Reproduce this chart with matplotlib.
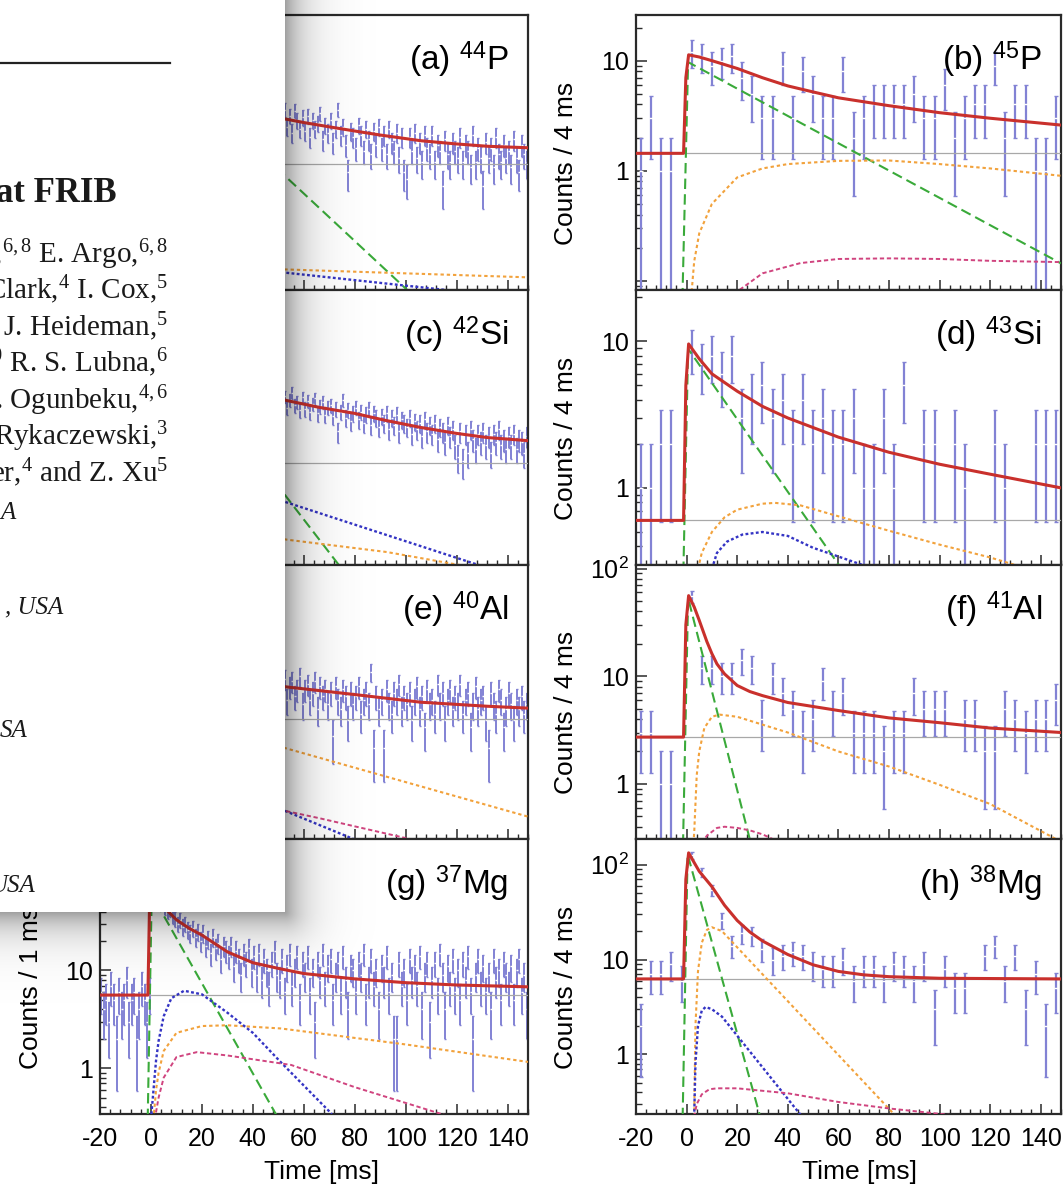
import numpy as np
import matplotlib
matplotlib.use("Agg")
import matplotlib.pyplot as plt
from matplotlib.ticker import MultipleLocator, LogLocator, FuncFormatter, NullFormatter
from matplotlib.lines import Line2D

plt.rcParams['font.family'] = ['Liberation Sans', 'DejaVu Sans']
plt.rcParams['mathtext.fontset'] = 'custom'
plt.rcParams['mathtext.rm'] = 'Liberation Serif'
plt.rcParams['mathtext.it'] = 'Liberation Serif:italic'
plt.rcParams['mathtext.bf'] = 'Liberation Serif:bold'
plt.rcParams['mathtext.sf'] = 'Liberation Sans'

# ---------------------------------------------------------------- data
# counts per bin; 4 ms bins start at -20 ms, 1 ms bins start where listed
counts_b = [1, 3, 1, 1, 0, 12, 11, 9, 10, 11, 7, 5, 3, 3, 9, 3, 8, 5, 3, 3, 8,
            2, 3, 4, 4, 4, 4, 5, 3, 3, 6, 2, 3, 4, 4, 9, 2, 4, 4, 1, 1, 3]
counts_d = [1, 1, 2, 2, 0, 9, 7, 8, 6, 8, 3, 4, 5, 3, 4, 2, 4, 2, 3, 2, 2,
            3, 1, 1, 3, 1, 5, 0, 2, 2, 0, 2, 1, 0, 0, 2, 1, 0, 0, 2, 2, 2]
counts_f = [3, 3, 1, 1, 0, 55, 12, 12, 10, 10, 14, 12, 4, 10, 7, 5, 3, 4, 9, 5, 7,
            3, 3, 3, 2, 3, 3, 7, 5, 5, 5, 0, 4, 4, 2, 2, 5, 4, 3, 4, 4, 6]
counts_h = [2, 7, 7, 9, 6, 125, 83, 54, 26, 14, 19, 18, 13, 10, 11, 12, 11, 9, 8, 8, 10,
            6, 8, 8, 6, 9, 8, 6, 9, 3, 8, 5, 5, 0, 11, 14, 6, 11, 3, 7, 2, 5]

counts_g = [6, 4, 5, 3, 7, 5, 2, 6, 4, 5, 8, 3, 5, 6, 2, 4, 7, 5, 3, 6,
            62, 70, 58, 55, 50, 44, 40, 42, 36, 34,
            30, 33, 28, 30, 26, 24, 27, 22, 25, 20,
            24, 18, 21, 15, 22, 17, 19, 13, 18, 16,
            14, 18, 11, 16, 13, 9, 15, 12, 17, 10,
            14, 9, 15, 8, 13, 10, 7, 12, 16, 9,
            8, 13, 6, 11, 15, 7, 10, 14, 5, 12,
            9, 14, 6, 10, 3, 12, 8, 15, 7, 11,
            13, 5, 9, 12, 6, 14, 8, 4, 11, 10,
            6, 12, 9, 15, 5, 8, 13, 7, 10, 4,
            11, 8, 14, 6, 9, 2, 2, 12, 7, 10,
            5, 13, 8, 11, 7, 14, 4, 9, 12, 3,
            8, 12, 6, 15, 9, 4, 11, 7, 13, 6,
            10, 5, 12, 8, 14, 6, 2, 9, 13, 7,
            11, 6, 9, 4, 13, 8, 10, 5, 12, 9,
            7, 11, 5, 10, 13, 6, 9, 4]

counts_a = [31, 24, 34, 22, 29, 19, 33, 26, 21, 28,
            20, 29, 17, 26, 21, 24, 31, 16, 23, 19,
            26, 15, 21, 34, 18, 22, 14, 7, 20, 17,
            13, 23, 18, 12, 21, 16, 11, 20, 14, 22,
            13, 18, 11, 21, 15, 12, 19, 10, 17, 7,
            6, 17, 12, 19, 10, 15, 9, 18, 13, 11,
            18, 9, 14, 12, 5, 16, 11, 9, 15, 12,
            10, 17, 9, 14, 12, 8, 18, 9, 13, 10,
            5, 15, 10, 13, 8, 17, 11, 9, 14, 10,
            12, 8, 16, 10, 7, 14, 11, 9]
counts_c = [44, 35, 41, 31, 38, 45, 33, 36, 29, 40,
            30, 37, 28, 34, 39, 27, 32, 36, 26, 31,
            33, 25, 30, 17, 28, 38, 24, 29, 22, 27,
            31, 23, 28, 21, 26, 30, 20, 27, 24, 19,
            25, 21, 27, 18, 24, 20, 26, 17, 23, 21,
            19, 24, 16, 22, 18, 21, 15, 23, 17, 20,
            16, 21, 14, 19, 17, 13, 20, 15, 18, 12,
            9, 17, 8, 16, 10, 18, 14, 11, 16, 13,
            17, 12, 15, 10, 16, 13, 18, 12, 14, 11,
            15, 12, 16, 11, 14, 13, 10, 15]
counts_e = [15, 12, 17, 10, 14, 16, 11, 13, 18, 9,
            13, 15, 10, 12, 16, 8, 14, 11, 13, 9,
            12, 4, 14, 10, 8, 13, 11, 6, 12, 9,
            11, 14, 7, 10, 12, 9, 20, 3, 11, 8,
            10, 3, 13, 9, 7, 12, 10, 15, 8, 11,
            9, 12, 6, 10, 14, 8, 11, 5, 13, 9,
            10, 7, 15, 9, 12, 6, 10, 13, 8, 11,
            9, 15, 7, 10, 12, 5, 9, 14, 8, 10,
            11, 6, 3, 12, 9, 7, 13, 10, 5, 8,
            12, 9, 6, 10, 8, 11, 7, 9]

# fitted curves: (time [ms], counts per bin)
b_total = ([-20, -1.2, -0.3, 0.8, 5, 10, 20, 30, 40, 50, 60, 80, 100, 120, 148],
           [1.44, 1.44, 7.0, 11.3, 10.8, 10.0, 8.5, 7.0, 5.9, 5.2, 4.6, 3.9, 3.37, 3.0, 2.6])
b_green = ([-1.8, 0.6, 148], [0.05, 9.7, 0.144])
b_orange = ([2, 3, 5, 10, 20, 30, 40, 60, 80, 100, 120, 148],
            [0.08, 0.15, 0.27, 0.5, 0.87, 1.05, 1.15, 1.23, 1.24, 1.15, 1.05, 0.90])
b_magenta = ([21, 30, 45, 60, 80, 100, 120, 148],
             [0.083, 0.117, 0.145, 0.158, 0.16, 0.158, 0.152, 0.148])
b_bg = 1.44

d_total = ([-20, -1.2, -0.3, 0.8, 5, 10, 20, 30, 40, 60, 80, 100, 120, 148],
           [0.60, 0.60, 5.0, 9.6, 7.6, 6.0, 4.57, 3.6, 3.0, 2.22, 1.75, 1.45, 1.24, 1.0])
d_green = ([-1.8, 0.6, 70], [0.1, 8.9, 0.17])
d_orange = ([4.5, 6, 10, 15, 20, 30, 35, 45, 60, 80, 100, 120, 135],
            [0.28, 0.36, 0.50, 0.63, 0.71, 0.78, 0.79, 0.76, 0.64, 0.51, 0.41, 0.335, 0.28])
d_blue = ([10, 12, 16, 22, 30, 40, 50, 60, 74],
          [0.28, 0.36, 0.43, 0.48, 0.50, 0.47, 0.39, 0.34, 0.28])
d_bg = 0.60

f_total = ([-20, -1.2, -0.3, 0.8, 3, 5, 8, 10, 12, 15, 20, 25, 30, 40, 60, 80, 100, 120, 148],
           [2.72, 2.72, 30, 56, 44, 33, 21, 16.2, 13, 10.5, 8.2, 7.2, 6.6, 5.7, 4.8, 4.1, 3.7, 3.3, 3.0])
f_green = ([-1.8, 0.6, 25.4, 30], [0.1, 53, 0.28, 0.107])
f_orange = ([2.7, 3, 4, 5, 7, 10, 13, 20, 40, 60, 80, 100, 120, 148],
            [0.28, 0.35, 1.2, 2.0, 3.3, 4.2, 4.4, 4.2, 3.0, 2.0, 1.45, 0.98, 0.65, 0.29])
f_magenta = ([6, 8, 12, 15, 20, 25, 30, 35, 38],
             [0.28, 0.33, 0.39, 0.40, 0.39, 0.37, 0.34, 0.30, 0.28])
f_bg = 2.72

h_total = ([-20, -1.2, -0.3, 0.8, 3, 5, 10, 15, 20, 25, 30, 40, 50, 60, 70, 80, 100, 148],
           [6.25, 6.25, 70, 133, 105, 85, 58.6, 37.3, 25.8, 19.5, 15.7, 11.3, 8.8, 7.5, 6.9, 6.6, 6.35, 6.25])
h_green = ([-1.8, 0.4, 28.8, 32], [0.1, 128, 0.236, 0.11])
h_orange = ([3, 3.5, 4.5, 6, 8, 10, 14, 83], [0.22, 2.0, 7.5, 15, 20.5, 21.9, 19.9, 0.22])
h_blue = ([3, 3.5, 4.5, 6, 7.5, 10, 14, 45.7], [0.22, 0.8, 2.0, 2.9, 3.16, 3.0, 2.5, 0.22])
h_magenta = ([3, 4, 6, 9, 12, 20, 40, 60, 80, 100, 111],
             [0.22, 0.3, 0.38, 0.43, 0.44, 0.44, 0.39, 0.316, 0.27, 0.237, 0.22])
h_bg = 6.25

g_total = ([-20, -1.2, -0.6, 0.5, 3, 6, 10, 15, 20, 30, 40, 50, 60, 80, 100, 120, 148],
           [5.6, 5.6, 40, 75, 55, 42, 33, 27, 23, 15.5, 12, 10.5, 9.3, 8.2, 7.5, 7.1, 6.8])
g_green = ([-1.6, 0.3, 49, 60], [0.1, 60, 0.34, 0.104])
g_blue = ([0, 1, 2, 3, 5, 8, 13, 20, 30, 40, 51, 71],
          [0.3, 0.6, 1.2, 1.9, 3.4, 5.2, 6.2, 5.7, 3.7, 2.3, 1.15, 0.34])
g_orange = ([1, 2, 3, 5, 10, 20, 30, 51, 100, 148],
            [0.3, 0.6, 0.9, 1.5, 2.3, 2.7, 2.75, 2.55, 1.75, 1.16])
g_magenta = ([1.5, 3, 5, 10, 18, 30, 55, 80, 114, 125],
             [0.3, 0.5, 0.8, 1.3, 1.46, 1.35, 1.08, 0.64, 0.34, 0.28])
g_bg = 5.6

a_total = ([45, 53, 60, 70, 80, 90, 106, 120, 132, 148],
           [28.5, 26.7, 24.5, 22.0, 19.8, 17.9, 15.5, 14.3, 13.5, 13.0])
a_green = ([45, 53.4, 100.5, 110], [10.1, 6.1, 0.366, 0.21])
a_orange = ([45, 148], [0.62, 0.50])
a_blue = ([45, 53.4, 115, 125], [0.57, 0.56, 0.366, 0.34])
a_bg = 8.67

c_total = ([45, 53.4, 66, 80, 92, 106, 120, 132, 148],
           [42, 37, 31.2, 26.8, 22.5, 18.8, 16.2, 14.6, 13.5])
c_green = ([45, 53.4, 73.6, 80], [6.5, 3.22, 0.6, 0.35])
c_blue = ([45, 53.4, 128, 135], [3.4, 2.85, 0.6, 0.52])
c_orange = ([45, 53.4, 92.7, 120, 130], [1.23, 1.12, 0.82, 0.6, 0.53])
c_bg = 7.7

e_total = ([45, 53.4, 80, 106, 132, 148], [14.8, 13.8, 11.4, 9.4, 8.5, 8.1])
e_orange = ([45, 53.4, 148], [3.41, 2.93, 0.53])
e_blue = ([45, 53.4, 79.7, 85], [0.74, 0.60, 0.30, 0.26])
e_magenta = ([45, 66, 102, 110], [0.68, 0.51, 0.30, 0.27])
e_bg = 6.2

labels = {'a': ('a', '44', 'P'), 'b': ('b', '45', 'P'), 'c': ('c', '42', 'Si'),
          'd': ('d', '43', 'Si'), 'e': ('e', '40', 'Al'), 'f': ('f', '41', 'Al'),
          'g': ('g', '37', 'Mg'), 'h': ('h', '38', 'Mg')}
ylims = {'a': (0.366, 366), 'b': (0.083, 26), 'c': (0.6, 600), 'd': (0.30, 22.5),
         'e': (0.3, 300), 'f': (0.306, 109), 'g': (0.34, 220), 'h': (0.236, 185)}
# decades that carry a printed tick label (those under the page cut-out are left blank)
ylabeled = {'a': [], 'b': [1, 10], 'c': [], 'd': [1, 10],
            'e': [], 'f': [1, 10, 100], 'g': [1, 10], 'h': [1, 10, 100]}
xticks_major = [-20, 0, 20, 40, 60, 80, 100, 120, 140]

# ---------------------------------------------------------------- layout
W, H = 1064, 1185
fig = plt.figure(figsize=(W / 100, H / 100), dpi=100)
fig.patch.set_facecolor('white')

col_x = {0: (100, 528), 1: (636, 1061)}
row_top = [15, 289.75, 564.5, 839.25]
row_h = 274.75

RED = '#c9302c'
GREEN = '#3aaa3a'
ORANGE = '#f2a23c'
BLUE = '#3434c4'
PINK = '#d0447f'
BAR = '#8282d4'

panels = [
    ('a', 0, 0, 1, 50, counts_a, a_total, [(a_green, 'g'), (a_orange, 'o'), (a_blue, 'b')], a_bg, None),
    ('b', 0, 1, 4, -20, counts_b, b_total, [(b_green, 'g'), (b_orange, 'o'), (b_magenta, 'm')], b_bg, 'Counts / 4 ms'),
    ('c', 1, 0, 1, 50, counts_c, c_total, [(c_green, 'g'), (c_orange, 'o'), (c_blue, 'b')], c_bg, None),
    ('d', 1, 1, 4, -20, counts_d, d_total, [(d_green, 'g'), (d_orange, 'o'), (d_blue, 'b')], d_bg, 'Counts / 4 ms'),
    ('e', 2, 0, 1, 50, counts_e, e_total, [(e_orange, 'o'), (e_blue, 'b'), (e_magenta, 'm')], e_bg, None),
    ('f', 2, 1, 4, -20, counts_f, f_total, [(f_green, 'g'), (f_orange, 'o'), (f_magenta, 'm')], f_bg, 'Counts / 4 ms'),
    ('g', 3, 0, 1, -20, counts_g, g_total, [(g_green, 'g'), (g_orange, 'o'), (g_blue, 'b'), (g_magenta, 'm')], g_bg, 'Counts / 1 ms'),
    ('h', 3, 1, 4, -20, counts_h, h_total, [(h_green, 'g'), (h_orange, 'o'), (h_blue, 'b'), (h_magenta, 'm')], h_bg, 'Counts / 4 ms'),
]

styles = {
    'g': dict(color=GREEN, lw=1.5, dashes=(5, 2.5)),
    'o': dict(color=ORANGE, lw=1.5, dashes=(1.6, 1.4)),
    'b': dict(color=BLUE, lw=1.7, dashes=(1.2, 1.0)),
    'm': dict(color=PINK, lw=1.4, dashes=(2.2, 1.4)),
}


def make_fmt(shown):
    def fmt(v, pos):
        for d in shown:
            if abs(v - d) < 1e-6 * d:
                return r'$\mathsf{10^{2}}$' if d == 100 else str(d)
        return ''
    return FuncFormatter(fmt)


for key, row, col, width, start, counts, total, comps, bg, ylab in panels:
    x0, x1 = col_x[col]
    top = row_top[row]
    ax = fig.add_axes([x0 / W, 1 - (top + row_h) / H, (x1 - x0) / W, row_h / H])
    ax.set_yscale('log')
    ax.set_xlim(-20, 148)
    ax.set_ylim(*ylims[key])

    n = np.asarray(counts, dtype=float)
    centers = start + width * (np.arange(len(n)) + 0.5)
    keep = n > 0
    xc, yc = centers[keep], n[keep]
    err = np.sqrt(yc)
    lo = np.minimum(err, yc * 0.999)
    cap = 1.5 if width == 4 else 0.9
    ax.errorbar(xc, yc, yerr=[lo, err], fmt='none', ecolor=BAR,
                elinewidth=1.6 if width == 4 else 1.4, capsize=cap, capthick=1.0, zorder=2)
    ax.plot(xc, yc, ls='none', marker='_', ms=3 if width == 4 else 2,
            mew=1.0, color='white', zorder=2.5)

    ax.axhline(bg, color='#a8a8a8', lw=0.9, zorder=3)
    for (t, v), s in comps:
        ax.plot(t, v, zorder=4, **styles[s])
    ax.plot(total[0], total[1], color=RED, lw=2.2, zorder=5, solid_joinstyle='round')

    # axes cosmetics
    for sp in ax.spines.values():
        sp.set_linewidth(1.6)
        sp.set_color('#2a2a2a')
    ax.xaxis.set_major_locator(MultipleLocator(20))
    ax.xaxis.set_minor_locator(MultipleLocator(4))
    ax.yaxis.set_major_locator(LogLocator(base=10, numticks=12))
    ax.yaxis.set_minor_locator(LogLocator(base=10, subs=np.arange(2, 10), numticks=12))
    ax.yaxis.set_major_formatter(make_fmt(ylabeled[key]))
    ax.yaxis.set_minor_formatter(NullFormatter())
    ax.tick_params(axis='both', which='both', direction='in', top=False, right=False,
                   color='#2a2a2a', labelsize=18)
    ax.tick_params(axis='x', which='major', length=7, width=1.1, pad=9)
    ax.tick_params(axis='x', which='minor', length=3.5, width=1.0)
    ax.tick_params(axis='y', which='major', length=8, width=1.1, pad=5)
    ax.tick_params(axis='y', which='minor', length=4, width=1.0)
    if row < 3:
        ax.tick_params(axis='x', labelbottom=False)
    else:
        ax.set_xticks(xticks_major)
        ax.set_xticklabels([str(v) for v in xticks_major])

    tag, mass, elem = labels[key]
    ax.text(0.955, 0.836, '(%s) $^{\\mathsf{%s}}$%s' % (tag, mass, elem),
            transform=ax.transAxes, ha='right', va='center', fontsize=24, zorder=6)

    if ylab:
        ylab_x = 31 if col == 0 else 566
        fig.text(ylab_x / W, 1 - (top + row_h / 2 + 11) / H, ylab, rotation=90,
                 ha='center', va='center', fontsize=19)

fig.text(322 / W, 1 - 1172 / H, 'Time [ms]', ha='center', va='center', fontsize=19)
fig.text(860 / W, 1 - 1172 / H, 'Time [ms]', ha='center', va='center', fontsize=19)

# ---------------------------------------------------------------- page cut-out with drop shadow
box_w, box_h = 285, 912
ov_w, ov_h = 430, 1010
yy, xx = np.mgrid[0:ov_h, 0:ov_w] + 0.5
dist = np.hypot(np.clip(xx - box_w, 0, None), np.clip(yy - box_h, 0, None))
overlay = np.zeros((ov_h, ov_w, 4))
overlay[..., 3] = 0.38 * np.exp(-dist / 20.0)
inside = (xx < box_w) & (yy < box_h)
overlay[inside] = (1.0, 1.0, 1.0, 1.0)
im = fig.figimage(overlay, xo=0, yo=H - ov_h, origin='upper', zorder=10)

fig.add_artist(Line2D([0, 170 / W], [1 - 63 / H, 1 - 63 / H], transform=fig.transFigure,
                      color='#222222', lw=1.6, zorder=12))


def page_text(x_px, y_px, s, **kw):
    fig.text(x_px / W, 1 - y_px / H, s, va='baseline', zorder=12,
             family=['Liberation Serif', 'DejaVu Serif'], color='#1a1a1a', **kw)


page_text(117, 202, 'at FRIB', ha='right', fontsize=25, fontweight='bold')
author_lines = [
    'o,$^{6,8}$ E. Argo,$^{6,8}$',
    'Clark,$^{4}$ I. Cox,$^{5}$',
    '$^{10}$ J. Heideman,$^{5}$',
    '$^{10}$ R. S. Lubna,$^{6}$',
    '. Ogunbeku,$^{4,6}$',
    'Rykaczewski,$^{3}$',
    'er,$^{4}$ and Z. Xu$^{5}$',
]
author_base = [263, 299, 336, 372, 409, 445, 482]
for s, yb in zip(author_lines, author_base):
    page_text(168, yb, s, ha='right', fontsize=21)
page_text(0, 519, 'A', ha='left', fontsize=18, style='italic')
page_text(63, 613, ', USA', ha='right', fontsize=18, style='italic')
page_text(27, 737, 'SA', ha='right', fontsize=18, style='italic')
page_text(35, 892, 'USA', ha='right', fontsize=18, style='italic')

fig.savefig('out.png', dpi=100)
